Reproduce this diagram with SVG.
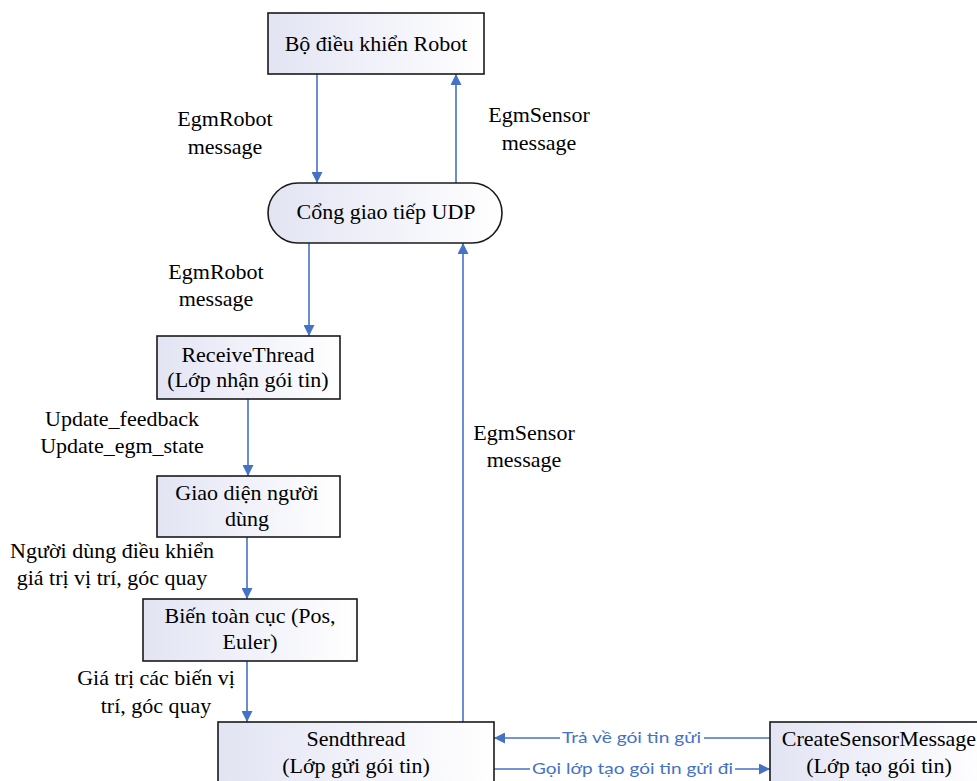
<svg xmlns="http://www.w3.org/2000/svg" width="977" height="781" viewBox="0 0 977 781">
  <defs>
    <linearGradient id="boxFill" x1="0" y1="0" x2="1" y2="0">
      <stop offset="0" stop-color="#e2e4f3"/>
      <stop offset="1" stop-color="#ffffff"/>
    </linearGradient>
    <marker id="arrow" viewBox="0 0 10 10" refX="10" refY="5" markerWidth="11" markerHeight="11" markerUnits="userSpaceOnUse" orient="auto">
      <path d="M0,0 L10,5 L0,10 Z" fill="#4472c4"/>
    </marker>
    <style>
      .box { fill: url(#boxFill); stroke: #1a1a1a; stroke-width: 1.6; }
      .link { fill: none; stroke: #4472c4; stroke-width: 1.6; }
    </style>
  </defs>

  <rect width="977" height="781" fill="#ffffff"/>

  <!-- connectors -->
  <g id="connectors">
    <path class="link" d="M317,74 V183" marker-end="url(#arrow)"/>
    <path class="link" d="M456,183 V74" marker-end="url(#arrow)"/>
    <path class="link" d="M309,243 V336" marker-end="url(#arrow)"/>
    <path class="link" d="M463,722 V243" marker-end="url(#arrow)"/>
    <path class="link" d="M248,399 V476" marker-end="url(#arrow)"/>
    <path class="link" d="M247,537 V599" marker-end="url(#arrow)"/>
    <path class="link" d="M247,661 V722" marker-end="url(#arrow)"/>
    <!-- return path from the message builder -->
    <path class="link" d="M770,738 H704"/>
    <path class="link" d="M560,738 H494" marker-end="url(#arrow)"/>
    <!-- call path to the message builder -->
    <path class="link" d="M494,769 H530"/>
    <path class="link" d="M735,769 H770" marker-end="url(#arrow)"/>
    <text x="562" y="743" font-family="Lato" font-size="16" fill="#4472c4" textLength="139" lengthAdjust="spacingAndGlyphs">Trả về gói tin gửi</text>
    <text x="532" y="774" font-family="Lato" font-size="16" fill="#4472c4" textLength="201" lengthAdjust="spacingAndGlyphs">Gọi lớp tạo gói tin gửi đi</text>
  </g>

  <!-- connector labels -->
  <g id="labels" font-size="22" fill="#000" text-anchor="middle">
    <text font-family="Liberation Serif" x="225" y="126">EgmRobot</text>
    <text font-family="Liberation Serif" x="225" y="154">message</text>
    <text font-family="Liberation Serif" x="539" y="122">EgmSensor</text>
    <text font-family="Liberation Serif" x="539" y="150">message</text>
    <text font-family="Liberation Serif" x="216" y="279">EgmRobot</text>
    <text font-family="Liberation Serif" x="216" y="306">message</text>
    <text font-family="Liberation Serif" x="122" y="426">Update_feedback</text>
    <text font-family="Liberation Serif" x="122" y="453">Update_egm_state</text>
    <text font-family="Liberation Serif" x="524" y="440">EgmSensor</text>
    <text font-family="Liberation Serif" x="524" y="467">message</text>
    <text font-family="Liberation Serif" x="112" y="558">Người dùng điều khiển</text>
    <text font-family="Liberation Serif" x="112" y="585">giá trị vị trí, góc quay</text>
    <text font-family="Liberation Serif" x="156" y="685">Giá trị các biến vị</text>
    <text font-family="Liberation Serif" x="156" y="713">trí, góc quay</text>
  </g>

  <!-- nodes -->
  <g id="robot-controller" font-size="22" text-anchor="middle">
    <rect class="box" x="268" y="13" width="216" height="61"/>
    <text font-family="Liberation Serif" x="376" y="51">Bộ điều khiển Robot</text>
  </g>

  <g id="udp-port" font-size="22" text-anchor="middle">
    <rect class="box" x="268" y="183" width="234" height="60" rx="30" ry="30"/>
    <text font-family="Liberation Serif" x="386" y="219">Cổng giao tiếp UDP</text>
  </g>

  <g id="receive-thread" font-size="22" text-anchor="middle">
    <rect class="box" x="157" y="336" width="183" height="63"/>
    <text font-family="Liberation Serif" x="248" y="362">ReceiveThread</text>
    <text font-family="Liberation Serif" x="248" y="387">(Lớp nhận gói tin)</text>
  </g>

  <g id="user-interface" font-size="22" text-anchor="middle">
    <rect class="box" x="157" y="476" width="183" height="61"/>
    <text font-family="Liberation Serif" x="247" y="500">Giao diện người</text>
    <text font-family="Liberation Serif" x="247" y="526">dùng</text>
  </g>

  <g id="global-variables" font-size="22" text-anchor="middle">
    <rect class="box" x="143" y="599" width="214" height="62"/>
    <text font-family="Liberation Serif" x="250" y="623">Biến toàn cục (Pos,</text>
    <text font-family="Liberation Serif" x="250" y="649">Euler)</text>
  </g>

  <g id="send-thread" font-size="22" text-anchor="middle">
    <rect class="box" x="218" y="722" width="276" height="70"/>
    <text font-family="Liberation Serif" x="356" y="746">Sendthread</text>
    <text font-family="Liberation Serif" x="356" y="773">(Lớp gửi gói tin)</text>
  </g>

  <g id="create-sensor-message" font-size="22" text-anchor="middle">
    <rect class="box" x="770" y="722" width="220" height="70"/>
    <text font-family="Liberation Serif" x="879" y="746">CreateSensorMessage</text>
    <text font-family="Liberation Serif" x="879" y="773">(Lớp tạo gói tin)</text>
  </g>
</svg>
